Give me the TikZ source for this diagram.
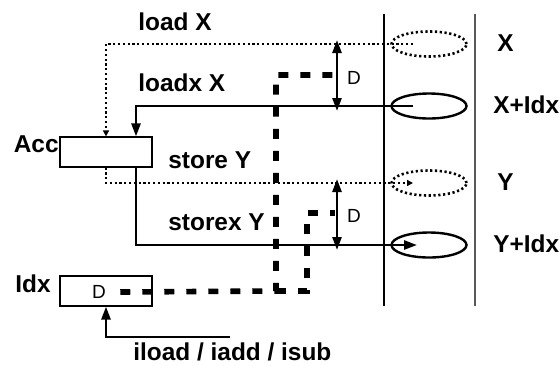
\documentclass[tikz,border=0pt]{standalone}
\usepackage{fontspec}
\setmainfont{Liberation Sans}
\usetikzlibrary{arrows.meta,shapes.geometric}

\tikzset{
  lbl/.style={font=\bfseries\fontsize{12.2}{14}\selectfont, inner sep=0pt, anchor=base west},
  small/.style={font=\fontsize{9.5}{11}\selectfont, inner sep=0pt},
  reg/.style={draw, line width=0.6pt, minimum width=46pt, minimum height=15pt, inner sep=0pt},
  cell/.style={ellipse, draw, line width=1.2pt, minimum width=37.5pt, minimum height=12.5pt, inner sep=0pt},
  dots/.style={line width=1.3pt, dash pattern=on 1.1pt off 1.3pt},
  conn/.style={line width=1.3pt},
  dline/.style={line width=2.8pt, dash pattern=on 5pt off 6pt},
  >={Triangle[length=6.5pt,width=4.5pt]}
}

\begin{document}
\begin{tikzpicture}[x=0.5pt,y=-0.5pt]
  \useasboundingbox (0,0) rectangle (560,365);
  \draw[line width=0.6pt] (384,14) -- (384,306);
  \draw[line width=1pt, black!65] (475,14) -- (475,306);
  \foreach \y/\n/\t/\s/\dx in {44/cx/X/dots/497, 106/cxi/X+Idx/solid/493, 183/cy/Y/dots/497, 245/cyi/Y+Idx/solid/493}{
    \node[cell, \s] (\n) at (429,\y) {};
    \node[lbl] at (\dx,\y+7) {\t};
  }
  \node[reg] (acc) at (106,152) {};
  \node[lbl, anchor=base east] at (59,152) {Acc};
  \node[reg] (idx) at (106,291) {};
  \node[small] (idxd) at (99,292) {D};
  \node[lbl] at (15,292) {Idx};

  \node[lbl] at (138,30) {load X};
  \node[lbl] at (138,91) {loadx X};
  \node[lbl] at (168,168) {store Y};
  \node[lbl] at (168,230) {storex Y};
  \node[lbl] at (133,360) {iload / iadd / isub};

  \draw[dots, -{Triangle[length=3pt,width=3pt]}] ([xshift=-8pt]cx.center) -| (acc.north);
  \draw[dots, -{Triangle[length=3pt,width=3pt]}] (acc.south) |- ([xshift=-8pt]cy.center);
  \draw[conn, ->] ([xshift=-8pt]cxi.center) -| ([xshift=15pt]acc.north);
  \draw[conn, ->] ([xshift=15pt]acc.south) |- ([xshift=-6pt]cyi.center);
  \coordinate (iop) at (230,337);
  \draw[conn, ->] (iop) -| (idx.south);

  \foreach \t/\b/\n in {40/111/1, 179/250/2}{
    \coordinate (dt\n) at (337,\t); \coordinate (db\n) at (337,\b);
    \draw[conn, <->] (dt\n) -- (db\n);
  }
  \node[small] (d1) at (354,78) {D};
  \node[small] (d2) at (354,216) {D};

  \coordinate (fork) at (276,291);
  \coordinate (dj1) at (335,75); \coordinate (dj2) at (335,213);
  \draw[dline] ([xshift=7pt]idxd.east) -- (fork) |- (dj1);
  \draw[dline] (fork) -- (307,291) |- (dj2);
\end{tikzpicture}
\end{document}
